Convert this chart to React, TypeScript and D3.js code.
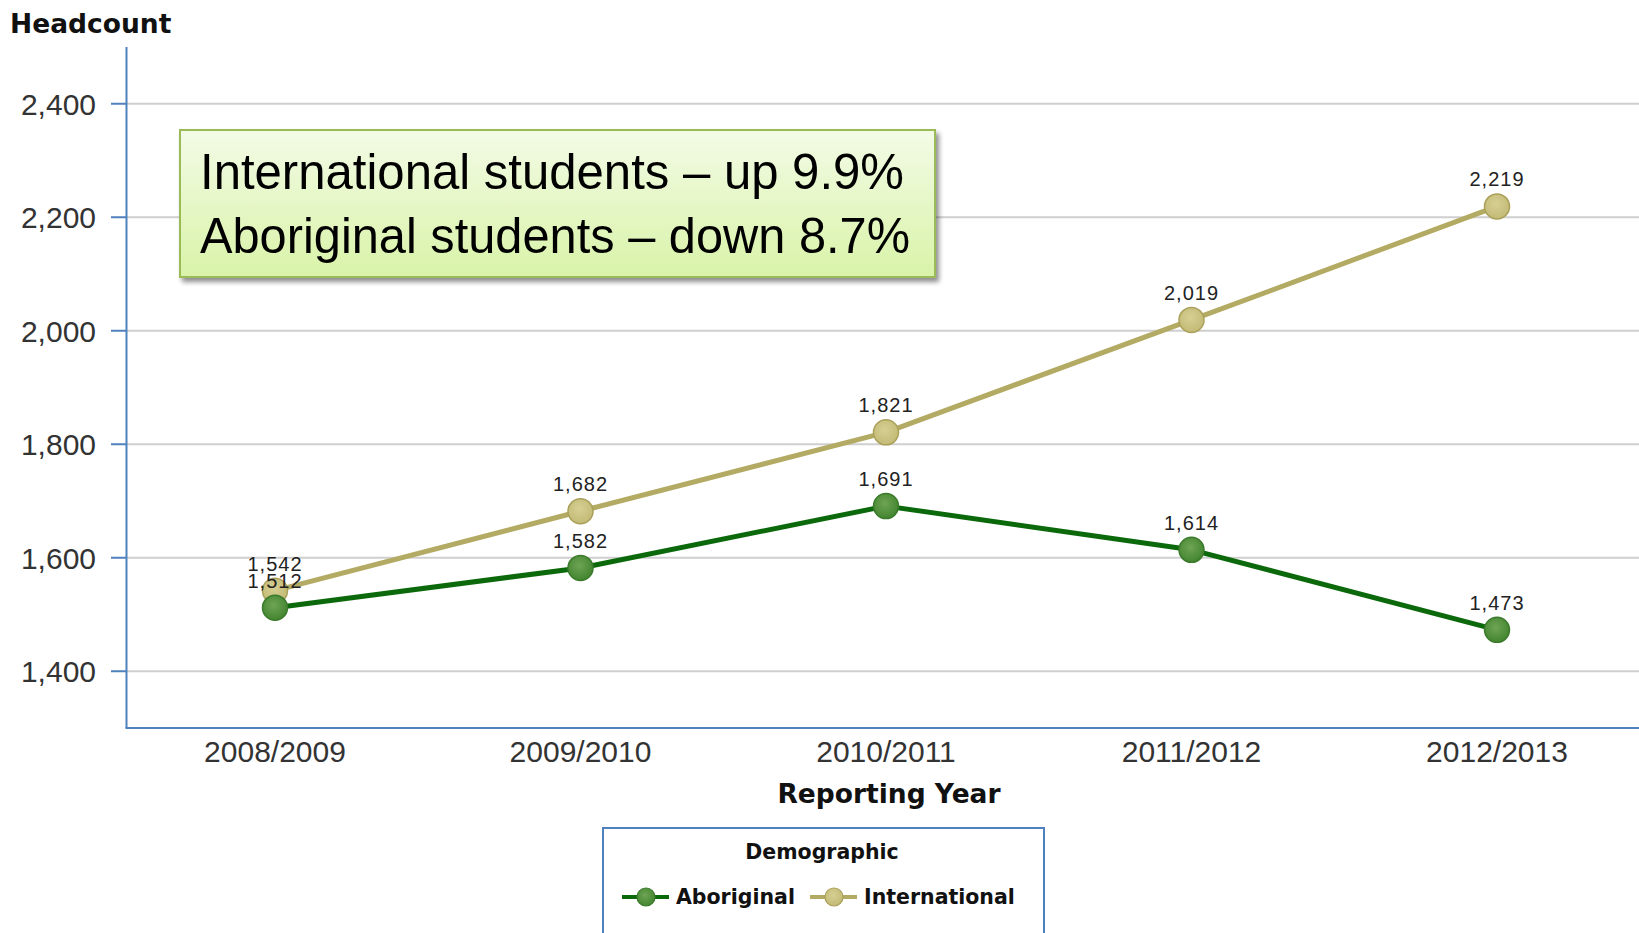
import React from "react";
import * as d3 from "d3";

const years = ["2008/2009", "2009/2010", "2010/2011", "2011/2012", "2012/2013"];
const aboriginal = [1512, 1582, 1691, 1614, 1473];
const international = [1542, 1682, 1821, 2019, 2219];
const yTicks = [1400, 1600, 1800, 2000, 2200, 2400];
const annotationLines = ["International students – up 9.9%", "Aboriginal students – down 8.7%"];
const seriesNames = ["Aboriginal", "International"];

const W = 1639;
const H = 933;
const axisX = 126.5;
const axisTop = 47;
const axisBottom = 728;

export default function App() {
  const x = d3.scalePoint<string>().domain(years).range([275, 1497]);
  const y = d3.scaleLinear().domain([1300, 2500]).range([axisBottom, axisTop]);
  const fmt = d3.format(",");
  const line = d3
    .line<number>()
    .x((_, i) => x(years[i]) as number)
    .y((d) => y(d));

  const series = [
    { name: seriesNames[1], values: international, line: "#b3aa63", fill: "url(#gInt)", stroke: "#aaa05a" },
    { name: seriesNames[0], values: aboriginal, line: "#0b690b", fill: "url(#gAbo)", stroke: "#3b7a2c" },
  ];

  const tickFont = "'Liberation Sans', Arial, sans-serif";
  const boldFont = "'DejaVu Sans', Verdana, sans-serif";

  return (
    <svg
      width={W}
      height={H}
      style={{ position: "absolute", left: 0, top: 0, background: "#fff" }}
    >
      <defs>
        <radialGradient id="gAbo" cx="45%" cy="40%" r="60%">
          <stop offset="0%" stopColor="#6ea455" />
          <stop offset="100%" stopColor="#43852f" />
        </radialGradient>
        <radialGradient id="gInt" cx="45%" cy="40%" r="60%">
          <stop offset="0%" stopColor="#d6cf92" />
          <stop offset="100%" stopColor="#c3ba76" />
        </radialGradient>
        <linearGradient id="gBox" x1="0" y1="0" x2="0" y2="1">
          <stop offset="0%" stopColor="#f3fbe6" />
          <stop offset="100%" stopColor="#d9f3a8" />
        </linearGradient>
        <filter id="shadow" x="-5%" y="-10%" width="115%" height="130%">
          <feGaussianBlur in="SourceAlpha" stdDeviation="2.5" />
          <feOffset dx="3" dy="4" result="ob" />
          <feComponentTransfer>
            <feFuncA type="linear" slope="0.45" />
          </feComponentTransfer>
          <feMerge>
            <feMergeNode />
            <feMergeNode in="SourceGraphic" />
          </feMerge>
        </filter>
      </defs>

      {/* Y axis title */}
      <text x={10} y={33} fontFamily={boldFont} fontWeight="bold" fontSize={26.5} fill="#111">
        Headcount
      </text>

      {/* gridlines and y ticks */}
      {yTicks.map((t) => (
        <g key={t}>
          <line x1={axisX} x2={W} y1={y(t)} y2={y(t)} stroke="#cfcfcf" strokeWidth={2} />
          <line x1={111} x2={axisX} y1={y(t)} y2={y(t)} stroke="#4f81bd" strokeWidth={2} />
          <text
            x={96}
            y={y(t)}
            dy="0.36em"
            textAnchor="end"
            fontFamily={tickFont}
            fontSize={30}
            fill="#333"
          >
            {fmt(t)}
          </text>
        </g>
      ))}

      {/* axes */}
      <line x1={axisX} x2={axisX} y1={axisTop} y2={axisBottom} stroke="#4f81bd" strokeWidth={2} />
      <line x1={axisX - 1} x2={W} y1={axisBottom} y2={axisBottom} stroke="#4f81bd" strokeWidth={2} />

      {/* x tick labels */}
      {years.map((yr) => (
        <text
          key={yr}
          x={x(yr)}
          y={762}
          textAnchor="middle"
          fontFamily={tickFont}
          fontSize={30}
          fill="#333"
        >
          {yr}
        </text>
      ))}
      <text
        x={889}
        y={803}
        textAnchor="middle"
        fontFamily={boldFont}
        fontWeight="bold"
        fontSize={26.5}
        fill="#111"
      >
        Reporting Year
      </text>

      {/* series */}
      {series.map((s) => (
        <g key={s.name}>
          <path d={line(s.values) || ""} fill="none" stroke={s.line} strokeWidth={5} strokeLinejoin="round" />
          {s.values.map((v, i) => (
            <circle
              key={i}
              cx={x(years[i])}
              cy={y(v)}
              r={12.5}
              fill={s.fill}
              stroke={s.stroke}
              strokeWidth={1.5}
            />
          ))}
        </g>
      ))}
      {series.map((s) =>
        s.values.map((v, i) => (
          <text
            key={s.name + i}
            x={x(years[i])}
            y={y(v) - 20}
            textAnchor="middle"
            fontFamily={tickFont}
            fontSize={20}
            letterSpacing={1}
            fill="#222"
          >
            {fmt(v)}
          </text>
        ))
      )}

      {/* annotation box */}
      <g filter="url(#shadow)">
        <rect x={180} y={130} width={755} height={147} fill="url(#gBox)" stroke="#9bbb59" strokeWidth={2} />
      </g>
      {annotationLines.map((t, i) => (
        <text
          key={t}
          x={200}
          y={189 + i * 64}
          fontFamily="'Liberation Sans Narrow', 'Liberation Sans', Arial, sans-serif"
          fontSize={50}
          textLength={i === 0 ? 704 : 710}
          lengthAdjust="spacingAndGlyphs"
          fill="#000"
        >
          {t}
        </text>
      ))}

      {/* legend */}
      <rect x={603} y={828} width={441} height={120} fill="#fff" stroke="#4f81bd" strokeWidth={2} />
      <text
        x={822}
        y={859}
        textAnchor="middle"
        fontFamily={boldFont}
        fontWeight="bold"
        fontSize={20.5}
        fill="#111"
      >
        Demographic
      </text>
      {[
        { name: seriesNames[0], x0: 622, line: "#0b690b", fill: "url(#gAbo)", stroke: "#3b7a2c" },
        { name: seriesNames[1], x0: 810, line: "#b3aa63", fill: "url(#gInt)", stroke: "#aaa05a" },
      ].map((l) => (
        <g key={l.name}>
          <line x1={l.x0} x2={l.x0 + 47} y1={897} y2={897} stroke={l.line} strokeWidth={4} />
          <circle cx={l.x0 + 24} cy={897} r={9} fill={l.fill} stroke={l.stroke} strokeWidth={1.2} />
          <text
            x={l.x0 + 54}
            y={904}
            fontFamily={boldFont}
            fontWeight="bold"
            fontSize={20.5}
            fill="#111"
          >
            {l.name}
          </text>
        </g>
      ))}
    </svg>
  );
}
